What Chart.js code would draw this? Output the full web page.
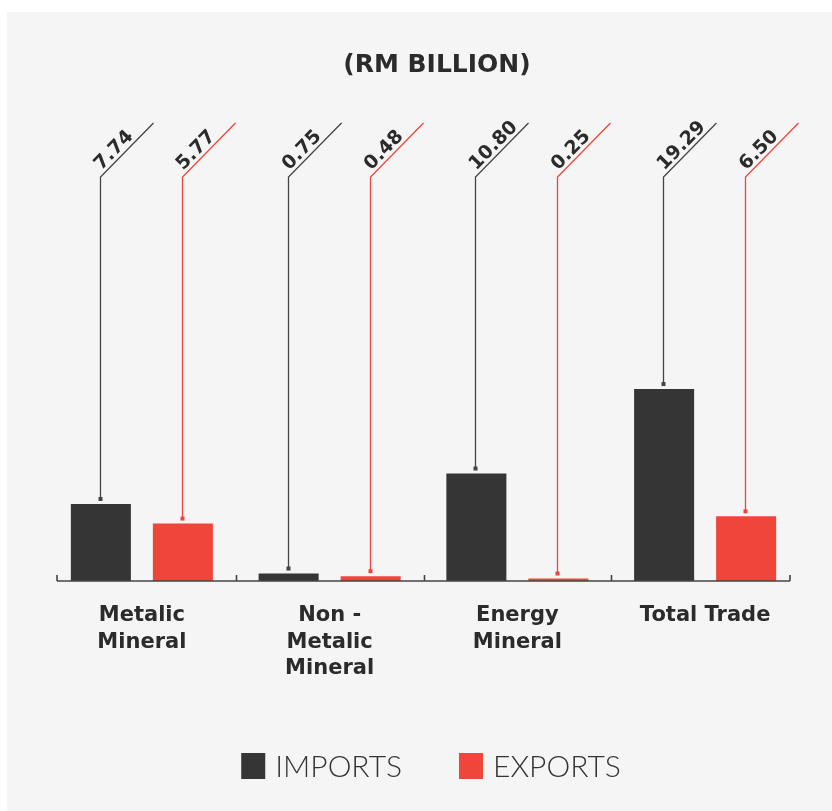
<!DOCTYPE html>
<html>
<head>
<meta charset="utf-8">
<script src="https://cdn.jsdelivr.net/npm/chart.js@4.4.0/dist/chart.umd.min.js"></script>
<style>
  html, body { margin: 0; padding: 0; background: #fff; }
</style>
</head>
<body>
<canvas id="tradeChart" width="832" height="811"></canvas>
<script>
// data (RM billion)
const categories = [["Metalic", "Mineral"], ["Non -", "Metalic", "Mineral"], ["Energy", "Mineral"], ["Total Trade"]];
const importsValues = [7.74, 0.75, 10.80, 19.29];
const exportsValues = [5.77, 0.48, 0.25, 6.50];
const seriesNames = ["IMPORTS", "EXPORTS"];
const chartTitle = "(RM BILLION)";

const DARK = "#353535";
const RED = "#f0453a";
const BOLD_FONT = "'DejaVu Sans', sans-serif";

// panel background
const panelBg = {
    id: "panelBg",
    beforeDraw(chart) {
        const ctx = chart.ctx;
        ctx.save();
        ctx.fillStyle = "#ffffff";
        ctx.fillRect(0, 0, chart.width, chart.height);
        ctx.fillStyle = "#f5f5f5";
        ctx.fillRect(7, 12, chart.width - 7, chart.height - 12);
        ctx.restore();
    }
};

// baseline with small upward ticks between the groups
const baseAxis = {
    id: "baseAxis",
    afterDatasetsDraw(chart) {
        const ctx = chart.ctx;
        const area = chart.chartArea;
        const xScale = chart.scales.x;
        const half = (xScale.getPixelForValue(1) - xScale.getPixelForValue(0)) / 2;
        const y = area.bottom;
        const left = area.left + 9;
        const right = area.right - 9;
        ctx.save();
        ctx.strokeStyle = "#444";
        ctx.lineWidth = 1.6;
        ctx.beginPath();
        ctx.moveTo(left, y);
        ctx.lineTo(right, y);
        const ticks = [left, right];
        for (let i = 0; i < categories.length - 1; i++) {
            ticks.push(Math.round(xScale.getPixelForValue(i) + half) + 0.5);
        }
        ticks.forEach((tx) => {
            ctx.moveTo(tx, y);
            ctx.lineTo(tx, y - 6);
        });
        ctx.stroke();
        ctx.restore();
    }
};

// leader lines with slanted value labels, plus title and legend
const decorations = {
    id: "decorations",
    afterDraw(chart) {
        const ctx = chart.ctx;
        const area = chart.chartArea;
        const elbowY = area.top - 6;
        const endY = area.top - 60;
        const endDx = 53;
        const angle = Math.atan2(elbowY - endY, endDx);

        ctx.save();
        chart.data.datasets.forEach((ds, di) => {
            const meta = chart.getDatasetMeta(di);
            const color = di === 0 ? "#444" : RED;
            meta.data.forEach((bar, i) => {
                const x = Math.round(bar.x) - 0.5;
                const dotY = bar.y - 5;
                ctx.strokeStyle = color;
                ctx.fillStyle = color;
                ctx.lineWidth = 1.3;
                ctx.beginPath();
                ctx.moveTo(x, dotY);
                ctx.lineTo(x, elbowY);
                ctx.lineTo(x + endDx, endY);
                ctx.stroke();
                ctx.fillRect(x - 2, dotY - 2, 4, 4);

                ctx.save();
                ctx.translate(x, elbowY);
                ctx.rotate(-angle);
                ctx.fillStyle = "#2b2b2b";
                ctx.font = "bold 19px " + BOLD_FONT;
                ctx.textAlign = "left";
                ctx.textBaseline = "alphabetic";
                ctx.fillText(ds.data[i].toFixed(2), 5, -4);
                ctx.restore();
            });
        });

        // title
        ctx.fillStyle = "#2b2b2b";
        ctx.font = "bold 25px " + BOLD_FONT;
        ctx.textAlign = "center";
        ctx.textBaseline = "middle";
        ctx.fillText(chartTitle, 437, 65);

        // legend
        ctx.font = "300 30px Lato, sans-serif";
        ctx.textAlign = "left";
        const boxW = 24, boxH = 26, gap = 10, spacing = 57;
        const widths = chart.data.datasets.map((ds) => ctx.measureText(ds.label).width);
        const total = widths.reduce((s, w) => s + boxW + gap + w, 0) + spacing;
        let lx = 431 - total / 2;
        const ly = 766;
        chart.data.datasets.forEach((ds, di) => {
            ctx.fillStyle = ds.backgroundColor;
            ctx.fillRect(lx, ly - boxH / 2, boxW, boxH);
            ctx.fillStyle = "#333";
            ctx.fillText(ds.label, lx + boxW + gap, ly + 1);
            lx += boxW + gap + widths[di] + spacing;
        });
        ctx.restore();
    }
};

const ctx = document.getElementById("tradeChart").getContext("2d");
new Chart(ctx, {
    type: "bar",
    data: {
        labels: categories,
        datasets: [
            {
                label: seriesNames[0],
                data: importsValues,
                backgroundColor: DARK,
                borderWidth: 0,
                categoryPercentage: 0.8735,
                barPercentage: 0.732
            },
            {
                label: seriesNames[1],
                data: exportsValues,
                backgroundColor: RED,
                borderWidth: 0,
                categoryPercentage: 0.8735,
                barPercentage: 0.732
            }
        ]
    },
    options: {
        responsive: false,
        animation: false,
        layout: {
            padding: { top: 183, left: 48, right: 33, bottom: 0 }
        },
        plugins: {
            legend: { display: false },
            title: { display: false },
            tooltip: { enabled: false }
        },
        scales: {
            x: {
                grid: { display: false, drawTicks: false },
                border: { display: false },
                ticks: {
                    color: "#2b2b2b",
                    padding: 22,
                    maxRotation: 0,
                    autoSkip: false,
                    font: { family: BOLD_FONT, size: 21, weight: "bold", lineHeight: 1.24 }
                },
                afterFit: function(scale) {
                    scale.height = 230;
                }
            },
            y: {
                display: false,
                min: 0,
                max: 40
            }
        }
    },
    plugins: [panelBg, baseAxis, decorations]
});
</script>
</body>
</html>
